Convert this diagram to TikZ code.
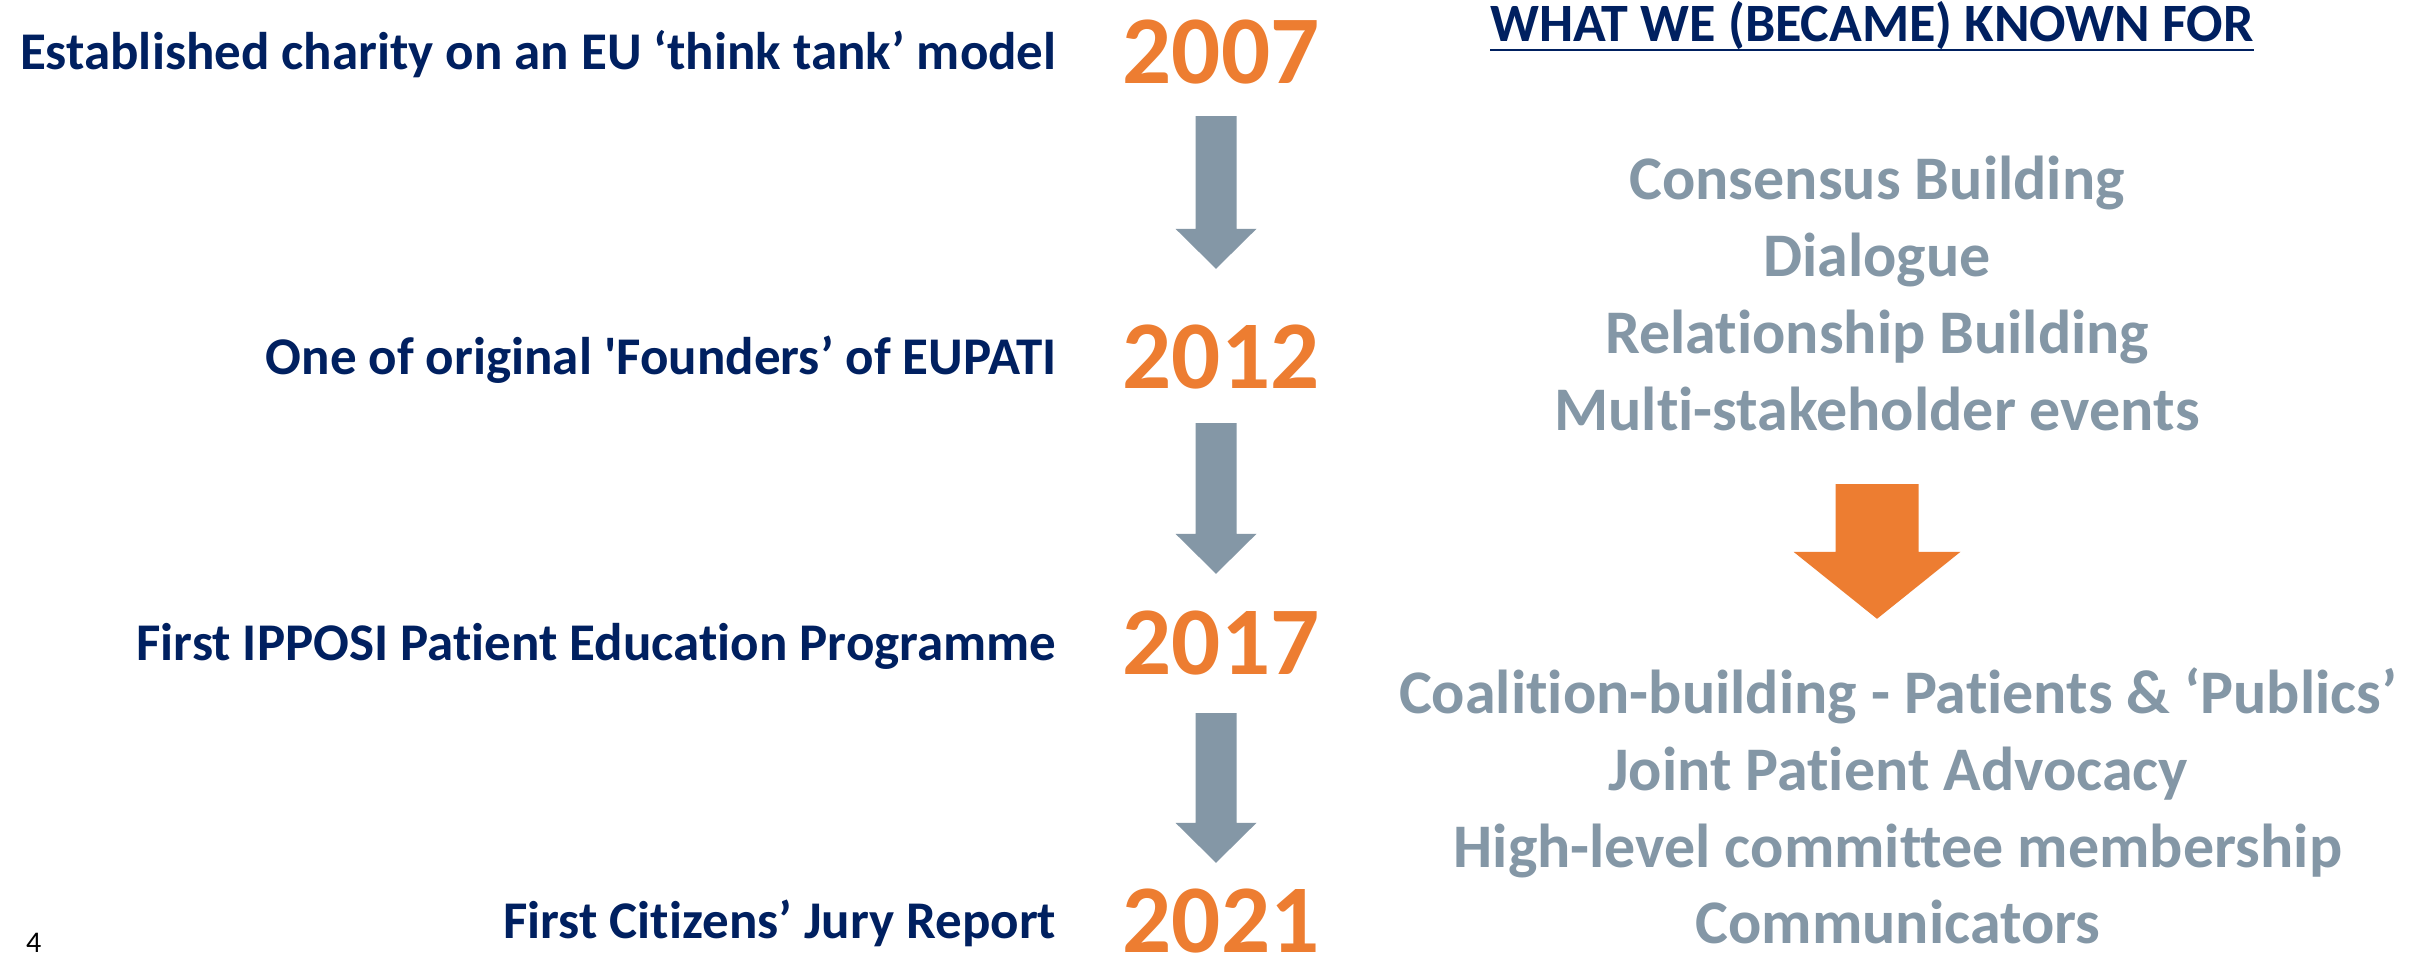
\documentclass[tikz,border=0pt]{standalone}
\usepackage{fontspec}
\setmainfont{Carlito}[Ligatures={TeX,NoCommon}]
\usepackage{xcolor}
\usetikzlibrary{positioning, calc}

\definecolor{ipnavy}{HTML}{002060}
\definecolor{iporange}{HTML}{ED7D31}
\definecolor{ipgrey}{RGB}{132,151,166}

% block arrow: colour, top point, tip point, half shaft, half head, head length
\newcommand{\blockarrow}[6]{%
  \fill[#1] let \p1=#2, \p2=#3 in
    (\x1-#4,\y1) -- (\x1+#4,\y1) -- (\x1+#4,\y2+#6) -- (\x1+#5,\y2+#6) -- (\x1,\y2)
    -- (\x1-#5,\y2+#6) -- (\x1-#4,\y2+#6) -- cycle;}

\begin{document}
\begin{tikzpicture}[x=1pt, y=1pt,
    yr/.style={text=iporange, font=\fontsize{97}{97}\selectfont\bfseries, inner sep=0pt, text height=62pt, text depth=0pt, on grid},
    lbl/.style={text=ipnavy, font=\fontsize{53}{53}\selectfont\bfseries, inner sep=0pt, text height=34pt, text depth=0pt},
    item/.style={text=ipgrey, font=\fontsize{62}{62}\selectfont\bfseries, inner sep=0pt, text height=45pt, text depth=15pt, on grid}]

        \useasboundingbox[fill=white] (0,0) rectangle (2420,-958);

        % years
        \node[yr] (y07) at (1221,-53) {2007};
        \node[yr, below=304pt of y07] (y12) {2012};
        \node[yr, below=286pt of y12] (y17) {2017};
        \node[yr, below=278pt of y17] (y21) {2021};

        \node[lbl, left=66pt of y07] (l07) {Established charity on an EU ‘think tank’ model};
        \node[lbl, left=66pt of y12] (l12) {One of original \textquotesingle Founders’ of EUPATI};
        \node[lbl, left=66pt of y17] (l17) {First IPPOSI Patient Education Programme};
        \node[lbl, left=66pt of y21] (l21) {First Citizens’ Jury Report};

        \foreach \a/\b/\s/\e in {y07/y12/32/57, y12/y17/35/38, y17/y21/39/27}
            \blockarrow{ipgrey}{($(\a.south)+(-5,-\s)$)}{($(\b.north)+(-5,\e)$)}{20.5pt}{40.5pt}{40pt};

        % known for
        \node[lbl, font=\fontsize{54}{54}\selectfont\bfseries, anchor=base] (head) at (1872,-42) {WHAT WE (BECAME) KNOWN FOR};
        \draw[ipnavy, line width=2.5pt] ([yshift=-8pt]head.base west) -- ([yshift=-8pt]head.base east);

        \node[item] (k1) at (1877,-184) {Consensus Building};
        \node[item, below=77pt of k1] (k2) {Dialogue};
        \node[item, below=77pt of k2] (k3) {Relationship Building};
        \node[item, below=77pt of k3] (k4) {Multi-stakeholder events};

        \node[item] (b1) at (1898,-698) {Coalition-building - Patients \& ‘Publics’};
        \node[item, below=77pt of b1] (b2) {Joint Patient Advocacy};
        \node[item, below=77pt of b2] (b3) {High-level committee membership};
        \node[item, below=76pt of b3] (b4) {Communicators};

        \blockarrow{iporange}{($(k4.south)+(0,-39)$)}{($(b1.north)+(0,49)$)}{41.5pt}{83.5pt}{67pt};

        \node[anchor=base west, font=\fontsize{30}{30}\selectfont, inner sep=0pt] (pg) at (26,-952) {4};

    \end{tikzpicture}
\end{document}
